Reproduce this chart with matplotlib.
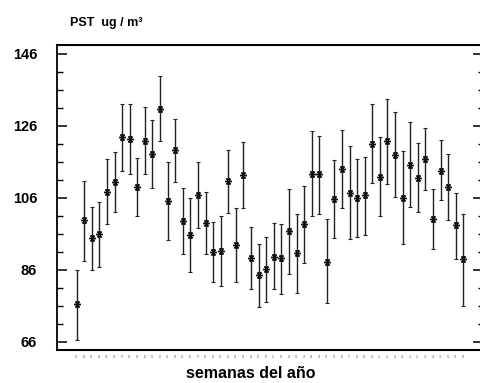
import matplotlib.pyplot as plt
import numpy as np

plt.rcParams['font.family'] = ['Liberation Sans', 'DejaVu Sans']

semanas = list(range(1, 53))
media = [76.4, 99.8, 94.9, 95.9, 107.6, 110.4, 122.9, 122.4, 109.0, 121.8,
         118.1, 130.8, 105.1, 119.2, 99.6, 95.7, 106.9, 99.1, 91.0, 91.2,
         110.7, 92.9, 112.4, 89.2, 84.5, 86.2, 89.6, 89.2, 96.9, 90.6,
         98.6, 112.6, 112.5, 88.2, 105.8, 114.1, 107.4, 106.0, 106.7, 121.0,
         111.8, 121.8, 118.0, 106.0, 115.2, 111.6, 116.7, 100.0, 113.6, 109.1,
         98.4, 88.9]
sup = [85.9, 110.7, 103.5, 104.9, 116.8, 118.8, 132.0, 132.0, 117.0, 131.2,
       127.6, 139.9, 115.9, 127.8, 108.6, 106.0, 116.1, 107.7, 99.2, 100.9,
       119.3, 103.1, 121.6, 98.0, 93.2, 95.2, 99.0, 98.7, 108.4, 101.4,
       109.4, 124.6, 123.1, 100.0, 116.5, 125.0, 120.4, 116.8, 117.3, 132.0,
       122.8, 133.4, 130.0, 119.0, 127.0, 121.3, 125.5, 108.4, 122.2, 118.1,
       107.4, 101.6]
inf = [66.6, 88.5, 85.9, 86.7, 98.6, 102.0, 113.6, 112.6, 100.9, 112.6,
       108.6, 121.8, 94.2, 110.3, 90.5, 85.5, 97.5, 90.3, 82.7, 81.5,
       101.9, 82.7, 103.3, 80.6, 75.7, 77.1, 80.6, 79.4, 84.8, 79.6,
       87.8, 101.0, 101.6, 76.7, 94.9, 103.1, 94.6, 95.1, 95.8, 110.0,
       101.0, 109.9, 106.1, 93.3, 103.4, 102.0, 108.1, 91.7, 105.3, 99.7,
       89.0, 75.9]
etiquetas_x = ['%02d' % s for s in semanas]

media = np.array(media)
err = [media - np.array(inf), np.array(sup) - media]

fig = plt.figure(figsize=(4.8, 3.83), dpi=100)
ax = fig.add_axes([56.5 / 480, 33.5 / 383, 423 / 480, 304.8 / 383])

ax.errorbar(semanas, media, yerr=err, fmt='none', ecolor='#222222',
            elinewidth=1.0, capsize=1.2, capthick=0.8)
ax.plot(semanas, media, linestyle='none', marker=(6, 2, 90), markersize=5,
        color='#111111', markeredgewidth=1.0)

ax.set_xlim(-1.66, 54.14)
ax.set_ylim(63.83, 148.58)
ax.set_yticks([66, 86, 106, 126, 146])
ax.set_yticks(np.arange(66, 147, 5), minor=True)
ax.set_xticks(semanas)
ax.set_xticklabels(etiquetas_x, fontsize=2, color='#666666')
ax.tick_params(axis='x', length=0, pad=4)
ax.tick_params(axis='y', which='major', direction='in', length=7.2, width=1.1,
               labelsize=10.5, pad=14)
ax.tick_params(axis='y', which='minor', direction='in', length=4, width=1.0)
for lab in ax.get_yticklabels():
    lab.set_fontweight('bold')

ax.spines['right'].set_visible(False)
ax.spines['top'].set_linewidth(1.5)
ax.spines['left'].set_linewidth(1.3)
ax.spines['bottom'].set_linewidth(1.5)

# ticks del lado derecho
ax2 = ax.twinx()
ax2.set_ylim(ax.get_ylim())
ax2.set_yticks([66, 86, 106, 126, 146])
ax2.set_yticks(np.arange(66, 147, 5), minor=True)
ax2.tick_params(axis='y', which='major', direction='in', length=5, width=1.1,
                labelright=False)
ax2.tick_params(axis='y', which='minor', direction='in', length=1.8, width=1.0)
for s in ax2.spines.values():
    s.set_visible(False)

fig.text(70 / 480, 1 - 26 / 383, 'PST  ug / m³', fontsize=9, fontweight='bold',
         ha='left', va='baseline')
fig.text(251 / 480, 1 - 378 / 383, 'semanas del año', fontsize=11.5,
         fontweight='bold', ha='center', va='baseline')

plt.savefig('out.png', dpi=100)
